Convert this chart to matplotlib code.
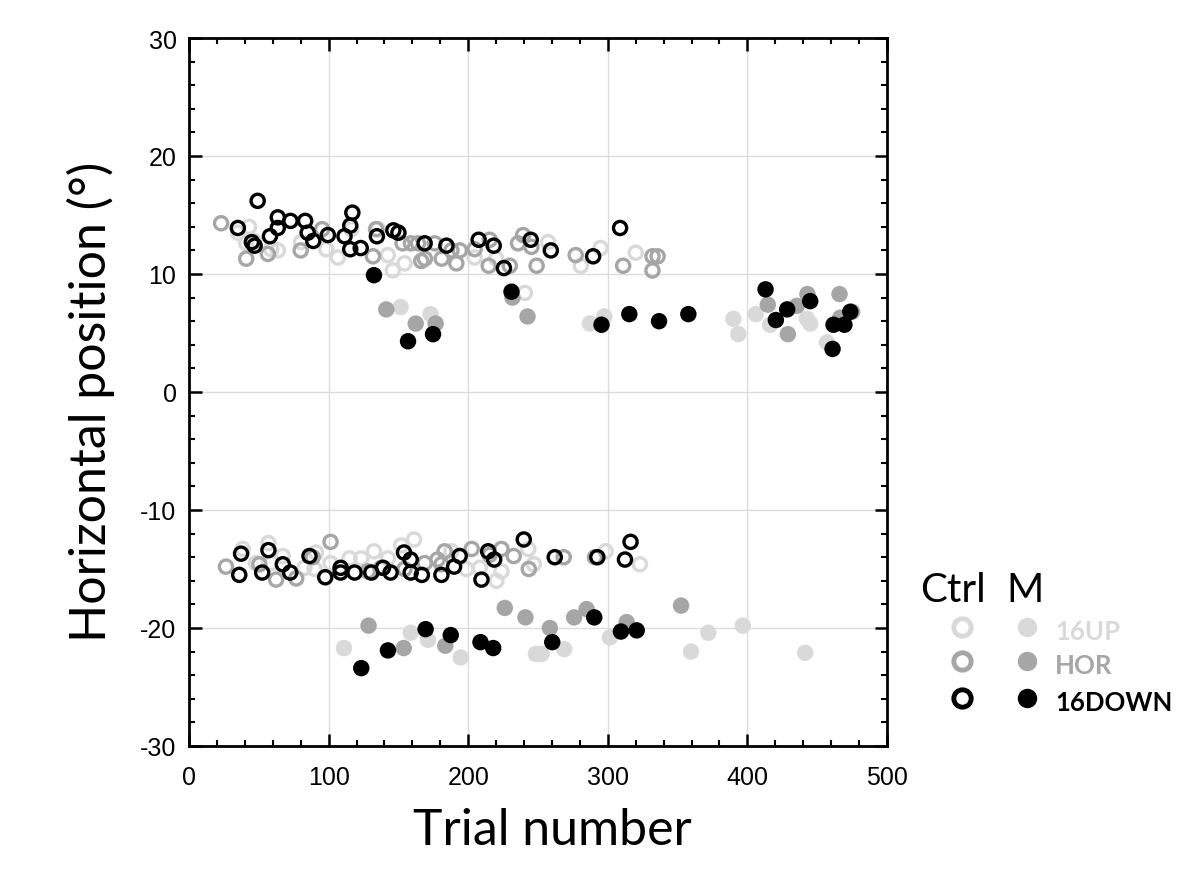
import matplotlib
matplotlib.use("Agg")
import matplotlib.pyplot as plt
from matplotlib.lines import Line2D
from matplotlib.ticker import MultipleLocator

# ---- data (trial number, horizontal position in degrees) ----
ctrl_16down_x = [35, 49.2, 45, 47, 58, 63.6, 63.6, 72.7, 83.2, 85, 89, 99.5, 111.4, 117, 115.5, 115.5,
                 123, 134.6, 146.4, 150, 168.8, 184.4, 207.5, 218.3, 225.6, 244.8, 259.2, 289.5, 308.8,
                 36, 37.3, 52.4, 56.9, 67.2, 72.5, 86.3, 97.6, 108.6, 108.6, 118.6, 130.6, 139, 144.4,
                 154, 158.8, 158.8, 166.8, 180.8, 189.9, 193.9, 209.5, 214.3, 218.6, 239.8, 262, 292.5,
                 312.3, 316.3]
ctrl_16down_y = [13.9, 16.2, 12.7, 12.4, 13.2, 14.8, 13.9, 14.5, 14.5, 13.5, 12.8, 13.3, 13.2, 15.2, 14.1, 12.1,
                 12.2, 13.2, 13.7, 13.5, 12.6, 12.4, 12.9, 12.4, 10.5, 12.9, 12.0, 11.5, 13.9,
                 -15.5, -13.7, -15.3, -13.4, -14.6, -15.3, -13.9, -15.7, -14.9, -15.3, -15.3, -15.3, -14.9, -15.3,
                 -13.6, -14.2, -15.3, -15.5, -15.5, -14.8, -13.9, -15.9, -13.5, -14.2, -12.5, -14.0, -14.0,
                 -14.2, -12.7]

ctrl_hor_x = [23, 41, 56.5, 80, 95.4, 131.8, 134, 153, 159, 164, 166.4, 169, 176, 181, 188, 194, 191.5,
              204.6, 214.7, 215.4, 229.8, 235.7, 239.3, 245.3, 249, 277, 311, 332, 335.7, 332,
              26.5, 50.4, 62.4, 76.8, 88.6, 101.4, 128.1, 137.7, 154.4, 168.8, 178, 180.8, 183.1, 202.5,
              215.4, 223.8, 232.6, 243.4, 268.4, 290.8]
ctrl_hor_y = [14.3, 11.3, 11.7, 12.0, 13.8, 11.5, 13.8, 12.6, 12.6, 12.6, 11.1, 11.3, 12.6, 11.3, 12.0, 12.0, 10.9,
              12.1, 10.7, 12.9, 10.7, 12.6, 13.3, 12.3, 10.7, 11.6, 10.7, 11.5, 11.5, 10.3,
              -14.8, -14.6, -15.9, -15.8, -14.0, -12.7, -15.2, -14.9, -15.0, -14.5, -14.2, -14.6, -13.5, -13.3,
              -13.8, -13.3, -13.9, -15.0, -14.0, -14.0]

ctrl_16up_x = [35, 43, 46.7, 58.8, 63.6, 80.3, 98.3, 106.7, 116.2, 135.4, 142.4, 146, 154.4, 204.6, 220,
               240.6, 257.2, 280.7, 294.8, 320, 41,
               38.5, 56.9, 48, 58.8, 67.2, 82.7, 91, 89.9, 101.4, 115, 123.4, 132.5, 142.5, 152, 161.2,
               188, 198.7, 208.3, 220.2, 223.8, 243, 247, 298.4, 323]
ctrl_16up_y = [13.5, 14.0, 12.8, 12.1, 12.0, 12.7, 12.1, 11.4, 13.8, 13.8, 11.6, 10.3, 10.9, 11.4, 11.3,
               8.4, 12.7, 10.7, 12.2, 11.8, 12.6,
               -13.3, -12.8, -14.5, -14.5, -13.9, -14.9, -13.6, -15.0, -14.5, -14.1, -14.1, -13.5, -14.1, -13.0, -12.5,
               -13.5, -15.0, -14.9, -16.0, -15.2, -13.3, -14.6, -13.5, -14.6]

m_16up_x = [151.6, 173, 287.2, 297.5, 390, 393.5, 406, 416.3, 442.6, 445, 457,
            111, 158.8, 171.2, 194.6, 248.5, 252.5, 268.8, 301.5, 359.6, 372, 396.7, 441.4]
m_16up_y = [7.2, 6.6, 5.8, 6.4, 6.2, 4.9, 6.6, 5.7, 6.2, 5.8, 4.2,
            -21.7, -20.4, -21.0, -22.5, -22.2, -22.2, -21.8, -20.8, -22.0, -20.4, -19.8, -22.1]

m_hor_x = [141.3, 162.4, 176.7, 231.7, 242.5, 414.6, 429, 435.4, 443, 466, 466.5, 475,
           128.6, 153.8, 183.6, 226.2, 241, 258.5, 275.9, 284.8, 313.5, 352.5]
m_hor_y = [7.0, 5.8, 5.8, 8.0, 6.4, 7.4, 4.9, 7.3, 8.3, 8.3, 6.3, 6.8,
           -19.8, -21.7, -21.5, -18.3, -19.1, -20.0, -19.1, -18.4, -19.5, -18.1]

m_16down_x = [132.5, 156.9, 174.8, 231, 295.5, 315.4, 336.7, 357.7, 413, 420.4, 428.5, 445, 461, 461.7,
              469.5, 473.7,
              123.4, 142.5, 169.5, 187.5, 208.8, 217.9, 260.2, 290.3, 309.4, 320.7]
m_16down_y = [9.9, 4.3, 4.9, 8.5, 5.7, 6.6, 6.0, 6.6, 8.7, 6.1, 7.0, 7.7, 3.65, 5.7,
              5.7, 6.8,
              -23.4, -21.9, -20.1, -20.6, -21.2, -21.7, -21.2, -19.1, -20.3, -20.2]

conditions = ["16UP", "HOR", "16DOWN"]
colors = ["#d9d9d9", "#a6a6a6", "#000000"]

x_ticks = [0, 100, 200, 300, 400, 500]
y_ticks = [-30, -20, -10, 0, 10, 20, 30]

# ---- figure ----
fig = plt.figure(figsize=(11.79, 8.79), dpi=100)
ax = fig.add_axes([189 / 1179, 132 / 879, 698 / 1179, 708 / 879])

open_sets = [(ctrl_16up_x, ctrl_16up_y), (ctrl_hor_x, ctrl_hor_y), (ctrl_16down_x, ctrl_16down_y)]
fill_sets = [(m_16up_x, m_16up_y), (m_hor_x, m_hor_y), (m_16down_x, m_16down_y)]

for (xs, ys), c in zip(open_sets, colors):
    ax.scatter(xs, ys, s=90, facecolors="none", edgecolors=c, linewidths=2.4, zorder=3)
for (xs, ys), c in zip(fill_sets, colors):
    ax.scatter(xs, ys, s=140, facecolors=c, edgecolors="none", zorder=4)

ax.set_xlim(0, 500)
ax.set_ylim(-30, 30)
ax.set_xticks(x_ticks)
ax.set_yticks(y_ticks)
ax.set_xticklabels([str(v) for v in x_ticks], family="Liberation Sans", fontsize=18)
ax.set_yticklabels([str(v) for v in y_ticks], family="Liberation Sans", fontsize=18)
ax.xaxis.set_minor_locator(MultipleLocator(20))
ax.yaxis.set_minor_locator(MultipleLocator(2))
ax.tick_params(which="major", direction="in", length=9, width=1.8, top=True, right=True)
ax.tick_params(which="minor", direction="in", length=4, width=1.5, top=True, right=True)
ax.tick_params(axis="y", which="major", pad=9)
ax.tick_params(axis="x", which="major", pad=14)
ax.grid(True, which="major", color="#dcdcdc", linewidth=1.0, zorder=0)
ax.set_axisbelow(True)
for sp in ax.spines.values():
    sp.set_linewidth(2.0)

ax.set_xlabel("Trial number", family="Lato", fontsize=36, labelpad=13)
ax.set_ylabel("Horizontal position (°)", family="Lato", fontsize=36, labelpad=18)
ax.xaxis.label.set_x(0.52)
ax.yaxis.label.set_y(0.487)

# ---- custom legend ----
fig.text(920 / 1179, 1 - 591 / 879, "Ctrl", family="Lato", fontsize=29, va="center", ha="left")
fig.text(1006 / 1179, 1 - 591 / 879, "M", family="Lato", fontsize=29, va="center", ha="left")
rows_y = [628, 662, 699]
for cond, c, yy in zip(conditions, colors, rows_y):
    yf = 1 - yy / 879
    fig.add_artist(Line2D([962 / 1179], [yf], marker="o", markersize=12.5, markerfacecolor="none",
                          markeredgecolor=c, markeredgewidth=3.5, linestyle="none"))
    fig.add_artist(Line2D([1027 / 1179], [yf], marker="o", markersize=14, markerfacecolor=c,
                          markeredgecolor="none", linestyle="none"))
    fig.text(1055 / 1179, yf - 0.005, cond, family="Lato", fontweight="bold", fontsize=18.5,
             color=c, va="center", ha="left")

fig.savefig("out.png", dpi=100)
